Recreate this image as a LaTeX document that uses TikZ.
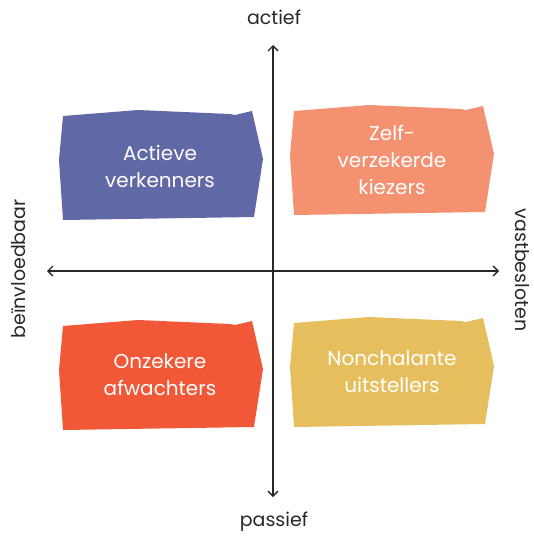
\documentclass[tikz,border=0pt]{standalone}
\usepackage{fontspec}
\setmainfont{Poppins}
\usetikzlibrary{arrows.meta}
\definecolor{cpurple}{RGB}{96,104,166}
\definecolor{csalmon}{RGB}{244,145,112}
\definecolor{cred}{RGB}{240,88,56}
\definecolor{cgold}{RGB}{230,190,94}
\definecolor{caxis}{RGB}{40,40,40}
\tikzset{
  blob/.style={fill=#1, draw=none},
  quadtext/.style={text=white, align=center, font=\fontsize{20}{27}\selectfont, inner sep=0pt},
  axislabel/.style={text=caxis, font=\fontsize{19}{22}\selectfont, inner sep=0pt},
  axisline/.style={draw=caxis, line width=1.3pt, -{Straight Barb[length=5pt,width=10pt,line width=1.3pt]}},
}
\newcommand\blobshape[3]{%
  \fill[blob=#1, shift={(#2,#3)}] (0,0) -- (75,-6) -- (167,-2) -- (172,-1) -- (189,-5) -- (200,43) -- (191,101) -- (0,104) -- (-4,44) -- cycle;}
\begin{document}
\begin{tikzpicture}[x=1pt,y=-1pt]
\useasboundingbox (0,0) rectangle (533,538);
\blobshape{cpurple}{63}{116}
\blobshape{csalmon}{294}{111}
\blobshape{cred}{63}{326}
\blobshape{cgold}{294}{323}
\node[quadtext] (av) at (160,166) {Actieve\\verkenners};
\node[quadtext] (zk) at (392,159.5) {Zelf-\\verzekerde\\kiezers};
\node[quadtext] (oa) at (160,375) {Onzekere\\afwachters};
\node[quadtext] (nu) at (392,372) {Nonchalante\\uitstellers};
\coordinate (c) at (273,271);
\coordinate (top) at (273,45);
\coordinate (bot) at (273,497);
\coordinate (lft) at (47,271);
\coordinate (rgt) at (499,271);
\draw[axisline] (c) -- (top);
\draw[axisline] (c) -- (bot);
\draw[axisline] (c) -- (lft);
\draw[axisline] (c) -- (rgt);
\node[axislabel] (actief) at (274,17) {actief};
\node[axislabel] (passief) at (274,522) {passief};
\node[axislabel, rotate=90] (bein) at (19,269) {beïnvloedbaar};
\node[axislabel, rotate=-90] (vast) at (522,270) {vastbesloten};
\end{tikzpicture}
\end{document}
